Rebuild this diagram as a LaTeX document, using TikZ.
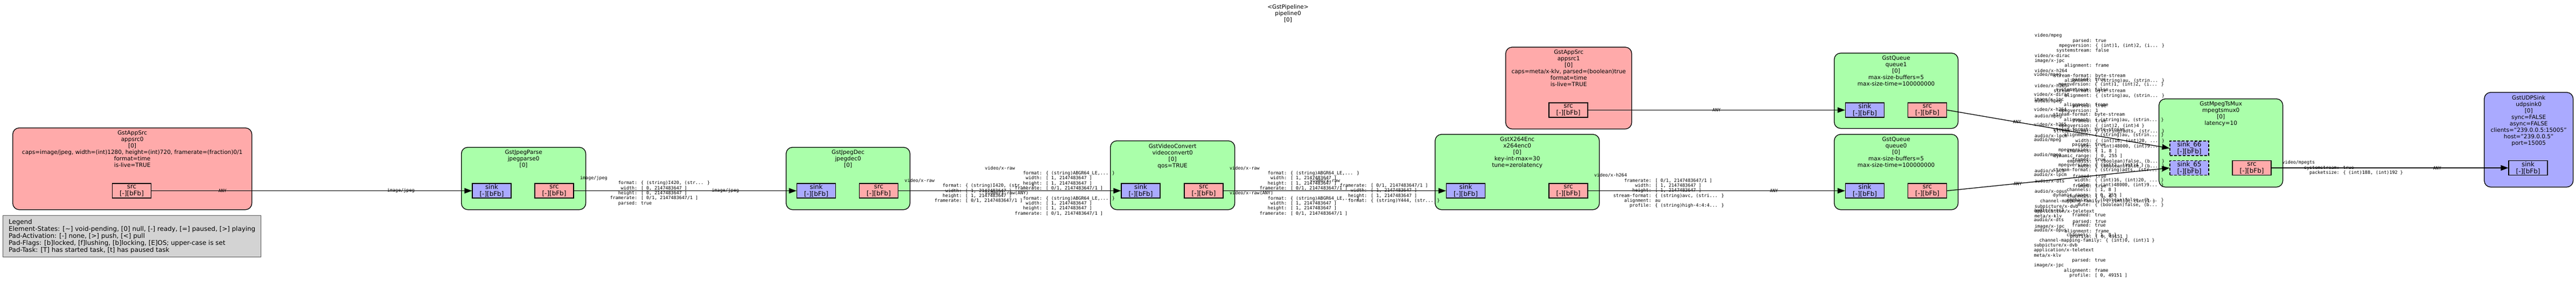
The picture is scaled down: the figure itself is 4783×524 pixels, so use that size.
\documentclass[tikz,border=0pt]{standalone}
\usepackage{fontspec}
\setmainfont{DejaVu Sans}
\newfontfamily\capsmono{DejaVu Sans Mono}
\usepackage{xcolor}
\usetikzlibrary{arrows.meta,calc,positioning}

\definecolor{srcpink}{HTML}{FFAAAA}
\definecolor{elemgreen}{HTML}{AAFFAA}
\definecolor{sinkblue}{HTML}{AAAAFF}
\definecolor{legendgray}{HTML}{D3D3D3}

\newlength{\chw}
\AtBeginDocument{\settowidth{\chw}{\capsmono\fontsize{8.4}{9.33}\selectfont 0}}
% caps field, name padded to 18 chars
\newcommand{\fld}[2]{\hspace*{2\chw}\makebox[18\chw][r]{#1}: #2}
\newcommand{\pst}{{[-][bFb]}}
\newcommand{\rawfields}{\fld{format}{\{ (string)ABGR64\_LE,... \}}\\\fld{width}{[ 1, 2147483647 ]}\\\fld{height}{[ 1, 2147483647 ]}\\\fld{framerate}{[ 0/1, 2147483647/1 ]}}
\newcommand{\muxcaps}{video/mpeg\\\fld{parsed}{true}\\\fld{mpegversion}{\{ (int)1, (int)2, (i... \}}\\\fld{systemstream}{false}\\
video/x-dirac\\image/x-jpc\\\fld{alignment}{frame}\\
video/x-h264\\\fld{stream-format}{byte-stream}\\\fld{alignment}{\{ (string)au, (strin... \}}\\
video/x-h265\\\fld{stream-format}{byte-stream}\\\fld{alignment}{\{ (string)au, (strin... \}}\\
audio/mpeg\\\fld{parsed}{true}\\\fld{mpegversion}{1}\\
audio/mpeg\\\fld{framed}{true}\\\fld{mpegversion}{\{ (int)2, (int)4 \}}\\\fld{stream-format}{\{ (string)adts, (str... \}}\\
audio/x-lpcm\\\fld{width}{\{ (int)16, (int)20, ... \}}\\\fld{rate}{\{ (int)48000, (int)9... \}}\\\fld{channels}{[ 1, 8 ]}\\\fld{dynamic\_range}{[ 0, 255 ]}\\\fld{emphasis}{\{ (boolean)false, (b... \}}\\\fld{mute}{\{ (boolean)false, (b... \}}\\
audio/x-ac3\\\fld{framed}{true}\\
audio/x-dts\\\fld{framed}{true}\\
audio/x-opus\\\fld{channels}{[ 1, 8 ]}\\\hspace*{2\chw}channel-mapping-family: \{ (int)0, (int)1 \}\\
subpicture/x-dvb\\application/x-teletext\\
meta/x-klv\\\fld{parsed}{true}\\
image/x-jpc\\\fld{alignment}{frame}\\\fld{profile}{[ 0, 49151 ]}}

\tikzset{
    elem/.style={draw, line width=1.3pt, rounded corners=12pt, anchor=north west, inner sep=0pt},
    ttl/.style={anchor=north, align=center, inner sep=0pt, font=\fontsize{10.5}{12}\selectfont},
    pad/.style={draw, line width=1.3pt, minimum width=72pt, minimum height=27pt, inner sep=0pt, align=center, font=\fontsize{11.9}{13}\selectfont},
    padsrc/.style={pad, fill=srcpink},
    padsink/.style={pad, fill=sinkblue},
    reqpad/.style={padsink, dash pattern=on 5pt off 3pt},
    caps/.style={align=left, inner sep=0pt, font=\capsmono\fontsize{8.4}{9.33}\selectfont},
    link/.style={line width=1.3pt, -{Triangle[length=14pt,width=10pt]}},
}

\begin{document}
\begin{tikzpicture}[x=1pt, y=-1pt]
    \useasboundingbox (0,0) rectangle (4783,524);
    \node[ttl] (pipe) at (2391.5,8) {<GstPipeline>\\pipeline0\\{[0]}};

    % elements
    \node[elem, fill=srcpink, minimum width=444pt, minimum height=152pt] (appsrc0) at (23,237) {};
    \node[elem, fill=elemgreen, minimum width=231pt, minimum height=116pt] (jpegparse0) at (856,273) {};
    \node[elem, fill=elemgreen, minimum width=230pt, minimum height=116pt] (jpegdec0) at (1459,273) {};
    \node[elem, fill=elemgreen, minimum width=231pt, minimum height=128pt] (videoconvert0) at (2061,261) {};
    \node[elem, fill=elemgreen, minimum width=305pt, minimum height=140pt] (x264enc0) at (2664,249) {};
    \node[elem, fill=srcpink, minimum width=234pt, minimum height=152pt] (appsrc1) at (2795,87) {};
    \node[elem, fill=elemgreen, minimum width=230pt, minimum height=140pt] (queue1) at (3405,98) {};
    \node[elem, fill=elemgreen, minimum width=230pt, minimum height=140pt] (queue0) at (3405,249) {};
    \node[elem, fill=elemgreen, minimum width=230pt, minimum height=164pt] (mpegtsmux0) at (4008,183) {};
    \node[elem, fill=sinkblue, minimum width=165pt, minimum height=176pt] (udpsink0) at (4612,171) {};

    \node[ttl] (appsrc0t) at ($(appsrc0.north)+(0,6)$) {GstAppSrc\\appsrc0\\{[0]}\\caps=image/jpeg, width=(int)1280, height=(int)720, framerate=(fraction)0/1\\format=time\\is-live=TRUE};
    \node[ttl] (jpegparse0t) at ($(jpegparse0.north)+(0,6)$) {GstJpegParse\\jpegparse0\\{[0]}};
    \node[ttl] (jpegdec0t) at ($(jpegdec0.north)+(0,6)$) {GstJpegDec\\jpegdec0\\{[0]}};
    \node[ttl] (videoconvert0t) at ($(videoconvert0.north)+(0,6)$) {GstVideoConvert\\videoconvert0\\{[0]}\\qos=TRUE};
    \node[ttl] (x264enc0t) at ($(x264enc0.north)+(0,6)$) {GstX264Enc\\x264enc0\\{[0]}\\key-int-max=30\\tune=zerolatency};
    \node[ttl] (appsrc1t) at ($(appsrc1.north)+(0,6)$) {GstAppSrc\\appsrc1\\{[0]}\\caps=meta/x-klv, parsed=(boolean)true\\format=time\\is-live=TRUE};
    \node[ttl] (queue1t) at ($(queue1.north)+(0,6)$) {GstQueue\\queue1\\{[0]}\\max-size-buffers=5\\max-size-time=100000000};
    \node[ttl] (queue0t) at ($(queue0.north)+(0,6)$) {GstQueue\\queue0\\{[0]}\\max-size-buffers=5\\max-size-time=100000000};
    \node[ttl] (mpegtsmux0t) at ($(mpegtsmux0.north)+(0,6)$) {GstMpegTsMux\\mpegtsmux0\\{[0]}\\latency=10};
    \node[ttl] (udpsink0t) at ($(udpsink0.north)+(0,6)$) {GstUDPSink\\udpsink0\\{[0]}\\sync=FALSE\\async=FALSE\\clients="239.0.0.5:15005"\\host="239.0.0.5"\\port=15005};

    % pads
    \node[padsrc] (a0src) at (244.5,354.5) {src\\\pst};
    \node[padsink] (jps) at (913,354.5) {sink\\\pst};
    \node[padsrc] (jpo) at (1029,354.5) {src\\\pst};
    \node[padsink] (jds) at (1515.5,354.5) {sink\\\pst};
    \node[padsrc] (jdo) at (1631.5,354.5) {src\\\pst};
    \node[padsink] (vcs) at (2118,354.5) {sink\\\pst};
    \node[padsrc] (vco) at (2235,354.5) {src\\\pst};
    \node[padsink] (xs) at (2721.5,354.5) {sink\\\pst};
    \node[padsrc] (xo) at (2912,354.5) {src\\\pst};
    \node[padsrc] (a1src) at (2912,204.5) {src\\\pst};
    \node[padsink] (q1s) at (3462.5,204.5) {sink\\\pst};
    \node[padsrc] (q1o) at (3578.5,204.5) {src\\\pst};
    \node[padsink] (q0s) at (3462.5,354.5) {sink\\\pst};
    \node[padsrc] (q0o) at (3578.5,354.5) {src\\\pst};
    \node[reqpad] (m66) at (4065,275.5) {sink\_66\\\pst};
    \node[reqpad] (m65) at (4065,312) {sink\_65\\\pst};
    \node[padsrc] (mo) at (4181,312) {src\\\pst};
    \node[padsink] (us) at (4694,312) {sink\\\pst};

    % links
    \draw[link] (a0src.east) -- (jps.west);
    \draw[link] (jpo.east) -- (jds.west);
    \draw[link] (jdo.east) -- (vcs.west);
    \draw[link] (vco.east) -- (xs.west);
    \draw[link] (xo.east) -- (q0s.west);
    \draw[link] (a1src.east) -- (q1s.west);
    \draw[link] (q1o.east) -- (m66.west);
    \draw[link] (q0o.east) -- (m65.west);
    \draw[link] (mo.east) -- (us.west);

    % caps on the links
    \node[caps] (c1t) at ($(a0src.east)+(132,0)$) {ANY};
    \node[caps] (c1h) at ($(jps.west)-(132,0)$) {image/jpeg};
    \node[caps] (c2t) at ($(jpo.east)+(132,0)$) {image/jpeg\\\fld{format}{\{ (string)I420, (str... \}}\\\fld{width}{[ 0, 2147483647 ]}\\\fld{height}{[ 0, 2147483647 ]}\\\fld{framerate}{[ 0/1, 2147483647/1 ]}\\\fld{parsed}{true}};
    \node[caps] (c2h) at ($(jds.west)-(132,0)$) {image/jpeg};
    \node[caps] (c3t) at ($(jdo.east)+(132,0)$) {video/x-raw\\\fld{format}{\{ (string)I420, (str... \}}\\\fld{width}{[ 1, 2147483647 ]}\\\fld{height}{[ 1, 2147483647 ]}\\\fld{framerate}{[ 0/1, 2147483647/1 ]}};
    \node[caps] (c3h) at ($(vcs.west)-(132,0)$) {video/x-raw\\\rawfields\\video/x-raw(ANY)\\\rawfields};
    \node[caps] (c4t) at ($(vco.east)+(132,0)$) {video/x-raw\\\rawfields\\video/x-raw(ANY)\\\rawfields};
    \node[caps] (c4h) at ($(xs.west)-(132,0)$) {video/x-raw\\\fld{framerate}{[ 0/1, 2147483647/1 ]}\\\fld{width}{[ 1, 2147483647 ]}\\\fld{height}{[ 1, 2147483647 ]}\\\fld{format}{\{ (string)Y444, (str... \}}};
    \node[caps] (c5t) at ($(xo.east)+(132,0)$) {video/x-h264\\\fld{framerate}{[ 0/1, 2147483647/1 ]}\\\fld{width}{[ 1, 2147483647 ]}\\\fld{height}{[ 1, 2147483647 ]}\\\fld{stream-format}{\{ (string)avc, (stri... \}}\\\fld{alignment}{au}\\\fld{profile}{\{ (string)high-4:4:4... \}}};
    \node[caps] (c5h) at ($(q0s.west)-(132,0)$) {ANY};
    \node[caps] (c6) at ($(a1src.east)!0.5!(q1s.west)$) {ANY};
    \node[caps] (c7t) at ($(q1o.east)!132pt!(m66.west)$) {ANY};
    \node[caps] (c7h) at ($(m66.west)!132pt!(q1o.east)$) {\muxcaps};
    \node[caps] (c8t) at ($(q0o.east)!132pt!(m65.west)$) {ANY};
    \node[caps] (c8h) at ($(m65.west)!132pt!(q0o.east)$) {\muxcaps};
    \node[caps] (c9t) at ($(mo.east)+(132,0)$) {video/mpegts\\\fld{systemstream}{true}\\\fld{packetsize}{\{ (int)188, (int)192 \}}};
    \node[caps] (c9h) at ($(us.west)-(132,0)$) {ANY};

    % legend
    \node[draw=black!65, line width=1.3pt, fill=legendgray, anchor=north west, align=left, inner xsep=7pt, inner ysep=5pt, minimum width=479pt, minimum height=77pt, font=\fontsize{11.9}{13.2}\selectfont] (legend) at (5,400) {Legend\\Element-States: [\textasciitilde] void-pending, [0] null, [-] ready, [=] paused, [>] playing\\Pad-Activation: [-] none, [>] push, [<] pull\\Pad-Flags: [b]locked, [f]lushing, [b]locking, [E]OS; upper-case is set\\Pad-Task: [T] has started task, [t] has paused task};
\end{tikzpicture}
\end{document}
